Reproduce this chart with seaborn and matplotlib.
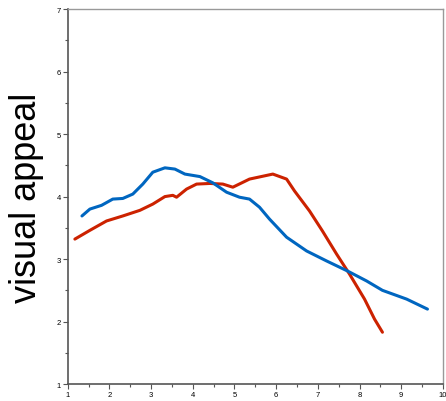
import matplotlib
matplotlib.use("Agg")
import matplotlib.pyplot as plt
import seaborn as sns
import pandas as pd
from matplotlib.ticker import MultipleLocator

blue_x = [1.34, 1.53, 1.81, 2.08, 2.32, 2.56, 2.80, 3.04, 3.33, 3.57, 3.81, 4.17,
          4.48, 4.81, 5.12, 5.36, 5.60, 5.84, 6.25, 6.73, 7.21, 7.71, 8.17, 8.55, 9.13, 9.63]
blue_y = [3.69, 3.80, 3.86, 3.96, 3.97, 4.04, 4.20, 4.39, 4.46, 4.44, 4.36, 4.32,
          4.22, 4.07, 3.99, 3.96, 3.83, 3.64, 3.35, 3.13, 2.97, 2.81, 2.65, 2.50, 2.36, 2.20]

red_x = [1.17, 1.53, 1.93, 2.32, 2.73, 3.04, 3.33, 3.52, 3.61, 3.85, 4.09, 4.41,
         4.72, 4.96, 5.36, 5.92, 6.25, 6.44, 6.80, 7.11, 7.45, 7.76, 8.12, 8.36, 8.55]
red_y = [3.32, 3.46, 3.61, 3.69, 3.78, 3.88, 4.00, 4.02, 3.99, 4.12, 4.20, 4.21,
         4.20, 4.15, 4.28, 4.36, 4.28, 4.09, 3.77, 3.45, 3.08, 2.76, 2.36, 2.04, 1.83]

sns.set_style("white")
plt.rcParams['font.family'] = ['Liberation Sans', 'DejaVu Sans']

fig = plt.figure(figsize=(4.46, 4.02), dpi=100)
ax = fig.add_axes([0.152, 0.042, 0.841, 0.933])

df_b = pd.DataFrame({"x": blue_x, "y": blue_y})
df_r = pd.DataFrame({"x": red_x, "y": red_y})
sns.lineplot(data=df_r, x="x", y="y", sort=False, color="#cc2200", linewidth=2.2, ax=ax)
sns.lineplot(data=df_b, x="x", y="y", sort=False, color="#0066c0", linewidth=2.2, ax=ax)
for ln in ax.lines:
    ln.set_solid_joinstyle("round")
    ln.set_solid_capstyle("round")

ax.set_xlim(1, 10)
ax.set_ylim(1, 7)
ax.xaxis.set_major_locator(MultipleLocator(1))
ax.xaxis.set_minor_locator(MultipleLocator(0.5))
ax.yaxis.set_major_locator(MultipleLocator(1))
ax.yaxis.set_minor_locator(MultipleLocator(0.5))
ax.tick_params(which="major", direction="out", length=3.5, width=0.8, color="#555555",
               labelsize=5.5, labelcolor="black", pad=1.5, bottom=True, left=True)
ax.tick_params(which="minor", direction="out", length=2, width=0.8, color="#555555",
               bottom=True, left=True)
ax.set_xlabel("")
ax.set_ylabel("visual appeal", fontsize=26, color="black", labelpad=9)
for s in ["left", "bottom"]:
    ax.spines[s].set_color("#555555")
    ax.spines[s].set_linewidth(1.2)
for s in ["top", "right"]:
    ax.spines[s].set_color("#999999")
    ax.spines[s].set_linewidth(1.0)

fig.savefig("out.png", dpi=100)
